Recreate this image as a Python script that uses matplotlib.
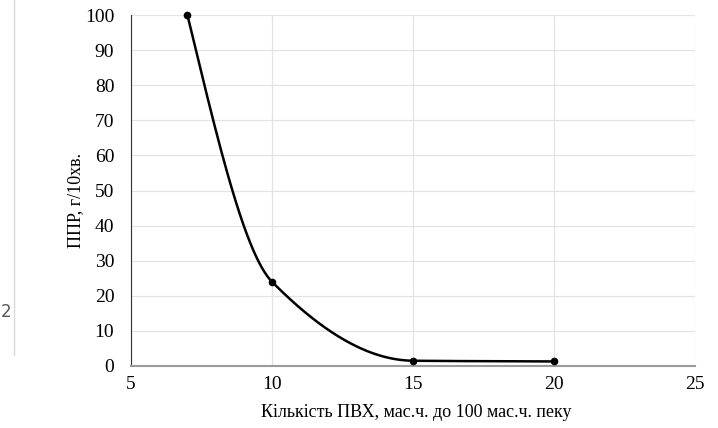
import numpy as np
import matplotlib
matplotlib.use("Agg")
import matplotlib.pyplot as plt
from matplotlib.lines import Line2D

x_vals = [7, 10, 15, 20]
y_vals = [100, 24, 1.5, 1.3]
x_ticks = [5, 10, 15, 20, 25]
y_ticks = [0, 10, 20, 30, 40, 50, 60, 70, 80, 90, 100]
x_label = "Кількість ПВХ, мас.ч. до 100 мас.ч. пеку"
y_label = "ППР, г/10хв."


def pchip(x, y, xs):
    x = np.asarray(x, float); y = np.asarray(y, float)
    h = np.diff(x); d = np.diff(y) / h
    n = len(x)
    m = np.zeros(n)
    for k in range(1, n - 1):
        if d[k - 1] * d[k] <= 0:
            m[k] = 0
        else:
            w1 = 2 * h[k] + h[k - 1]; w2 = h[k] + 2 * h[k - 1]
            m[k] = (w1 + w2) / (w1 / d[k - 1] + w2 / d[k])
    m[0] = ((2 * h[0] + h[1]) * d[0] - h[0] * d[1]) / (h[0] + h[1])
    if np.sign(m[0]) != np.sign(d[0]):
        m[0] = 0
    m[-1] = d[-1]
    out = np.empty_like(xs)
    for i, xv in enumerate(xs):
        k = min(np.searchsorted(x, xv, side="right") - 1, n - 2)
        k = max(k, 0)
        t = (xv - x[k]) / h[k]
        h00 = 2 * t**3 - 3 * t**2 + 1
        h10 = t**3 - 2 * t**2 + t
        h01 = -2 * t**3 + 3 * t**2
        h11 = t**3 - t**2
        out[i] = h00 * y[k] + h10 * h[k] * m[k] + h01 * y[k + 1] + h11 * h[k] * m[k + 1]
    return out


plt.rcParams['font.family'] = ['Liberation Serif', 'DejaVu Serif']

fig = plt.figure(figsize=(7.18, 4.28), dpi=100)
ax = fig.add_axes([131 / 718, 1 - 366 / 428, (695 - 131) / 718, (366 - 15) / 428])

xs = np.linspace(x_vals[0], x_vals[-1], 400)
ys = pchip(x_vals, y_vals, xs)
ax.plot(xs, ys, color='black', lw=1.8, solid_capstyle='round', clip_on=False)
ax.plot(x_vals, y_vals, 'o', color='black', ms=4.5, clip_on=False, zorder=3)

ax.set_xlim(5, 25)
ax.set_ylim(0, 100)
ax.set_xticks(x_ticks)
ax.set_yticks(y_ticks)
ax.grid(True, color='#e3e3e3', lw=0.9)
ax.set_axisbelow(True)
for s in ['top', 'right']:
    ax.spines[s].set_visible(False)
ax.spines['left'].set_color('#333333')
ax.spines['bottom'].set_color('#9a9a9a')
ax.spines['bottom'].set_linewidth(1.5)
ax.tick_params(length=0, labelsize=14, pad=7, colors='black')
ax.tick_params(axis='y', pad=12)
ax.set_xlabel(x_label, fontsize=13)
ax.set_ylabel(y_label, fontsize=13)
ax.xaxis.set_label_coords((416 - 131) / 564, (366 - 404) / 351)
ax.yaxis.set_label_coords((84 - 131) / 564, (366 - 200) / 351)

fig.add_artist(Line2D([13.5 / 718, 13.5 / 718], [1, 1 - 355 / 428],
                      transform=fig.transFigure, color='#d8d8d8', lw=1))
fig.text(1 / 718, 1 - 312 / 428, "2", fontsize=12, color='#555555',
         family='DejaVu Sans', va='center', ha='left')

fig.savefig("out.png", dpi=100)
